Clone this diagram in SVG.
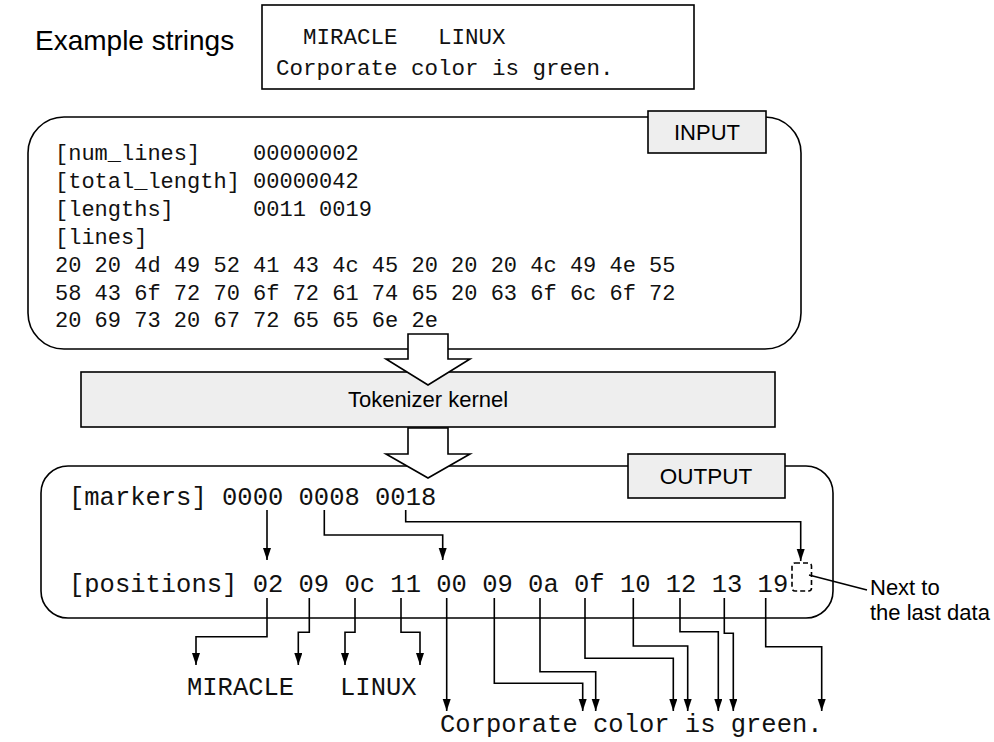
<svg xmlns="http://www.w3.org/2000/svg" width="994" height="742" viewBox="0 0 994 742">
<defs>
<style>
.sans{font-family:"Liberation Sans",Arial,sans-serif;fill:#000}
.mono{font-family:"Liberation Mono","Courier New",monospace;fill:#111;white-space:pre}
.box{fill:#fff;stroke:#000;stroke-width:1.6}
.lbl{fill:#eeeeee;stroke:#000;stroke-width:1.6}
.blk{fill:#fff;stroke:#000;stroke-width:1.6;stroke-linejoin:miter}
.ln{fill:none;stroke:#000;stroke-width:1.6}
.arr{fill:none;stroke:#000;stroke-width:1.6;marker-end:url(#ah)}
</style>
<marker id="ah" markerUnits="userSpaceOnUse" markerWidth="12" markerHeight="9" refX="12" refY="4" orient="auto">
<path d="M0,0 L12,4 L0,8 z" fill="#000"/>
</marker>
</defs>

<g id="title">
<text class="sans" x="35" y="50" font-size="28">Example strings</text>
</g>

<g id="example">
<rect class="box" x="262" y="5" width="432" height="84"/>
<text class="mono" x="276" y="44" font-size="22.5" xml:space="preserve">  MIRACLE   LINUX</text>
<text class="mono" x="276" y="75" font-size="22.5">Corporate color is green.</text>
</g>

<g id="input">
<rect class="box" x="28" y="117" width="773" height="232" rx="36"/>
<rect class="lbl" x="648" y="111" width="118" height="42"/>
<text class="sans" x="707" y="140" font-size="22" text-anchor="middle">INPUT</text>
<g class="mono" font-size="22">
<text x="55" y="160" xml:space="preserve">[num_lines]    00000002</text>
<text x="55" y="188" xml:space="preserve">[total_length] 00000042</text>
<text x="55" y="216" xml:space="preserve">[lengths]      0011 0019</text>
<text x="55" y="244">[lines]</text>
<text x="55" y="272">20 20 4d 49 52 41 43 4c 45 20 20 20 4c 49 4e 55</text>
<text x="55" y="300">58 43 6f 72 70 6f 72 61 74 65 20 63 6f 6c 6f 72</text>
<text x="55" y="327">20 69 73 20 67 72 65 65 6e 2e</text>
</g>
</g>

<g id="tokenizer">
<rect class="lbl" x="81" y="372" width="694" height="55"/>
<text class="sans" x="428" y="407" font-size="22" text-anchor="middle">Tokenizer kernel</text>
</g>

<g id="output">
<rect class="box" x="41" y="466" width="792" height="152" rx="27"/>
<rect class="lbl" x="628" y="454" width="157" height="44"/>
<text class="sans" x="706" y="484" font-size="22.5" text-anchor="middle">OUTPUT</text>
<text class="mono" x="69" y="505" font-size="25.5">[markers] 0000 0008 0018</text>
<text class="mono" x="69" y="592" font-size="25.5">[positions] 02 09 0c 11 00 09 0a 0f 10 12 13 19</text>
<rect x="792" y="563" width="19.5" height="28" rx="3" fill="none" stroke="#000" stroke-width="1.6" stroke-dasharray="5,3"/>
</g>

<g id="strings-out">
<text class="mono" x="187" y="695" font-size="25.5" xml:space="preserve">MIRACLE   LINUX</text>
<text class="mono" x="440" y="732" font-size="25.5">Corporate color is green.</text>
</g>

<g id="note">
<line class="ln" x1="809" y1="575" x2="867" y2="590"/>
<text class="sans" x="870" y="595" font-size="22">Next to</text>
<text class="sans" x="870" y="620" font-size="22">the last data</text>
</g>

<g id="block-arrows">
<polygon class="blk" points="408,334 448,334 448,359 470,359 428,385 386,359 408,359"/>
<polygon class="blk" points="408,428 448,428 448,454 470,454 428,478 386,454 408,454"/>
</g>

<g id="connectors">
<path class="arr" d="M267,510 V560"/>
<path class="arr" d="M324.3,510 V535 H442.7 V560"/>
<path class="arr" d="M405.7,510 V521.7 H800.7 V561"/>
<path class="arr" d="M267,598 V636.7 H196 V665"/>
<path class="arr" d="M309.3,598 V632.3 H298.3 V665"/>
<path class="arr" d="M355,598 V632.3 H345 V665"/>
<path class="arr" d="M401,598 V632.3 H420 V665"/>
<path class="arr" d="M446.7,598 V711"/>
<path class="arr" d="M494.3,598 V683.3 H582.7 V711"/>
<path class="arr" d="M540,598 V671.7 H595.7 V711"/>
<path class="arr" d="M585,598 V658.3 H673.3 V711"/>
<path class="arr" d="M633.3,598 V646 H687.7 V711"/>
<path class="arr" d="M680,598 V631.7 H718.3 V711"/>
<path class="arr" d="M724.3,598 V633.3 H733.3 V711"/>
<path class="arr" d="M765.7,598 V646.7 H821.7 V711"/>
</g>
</svg>
